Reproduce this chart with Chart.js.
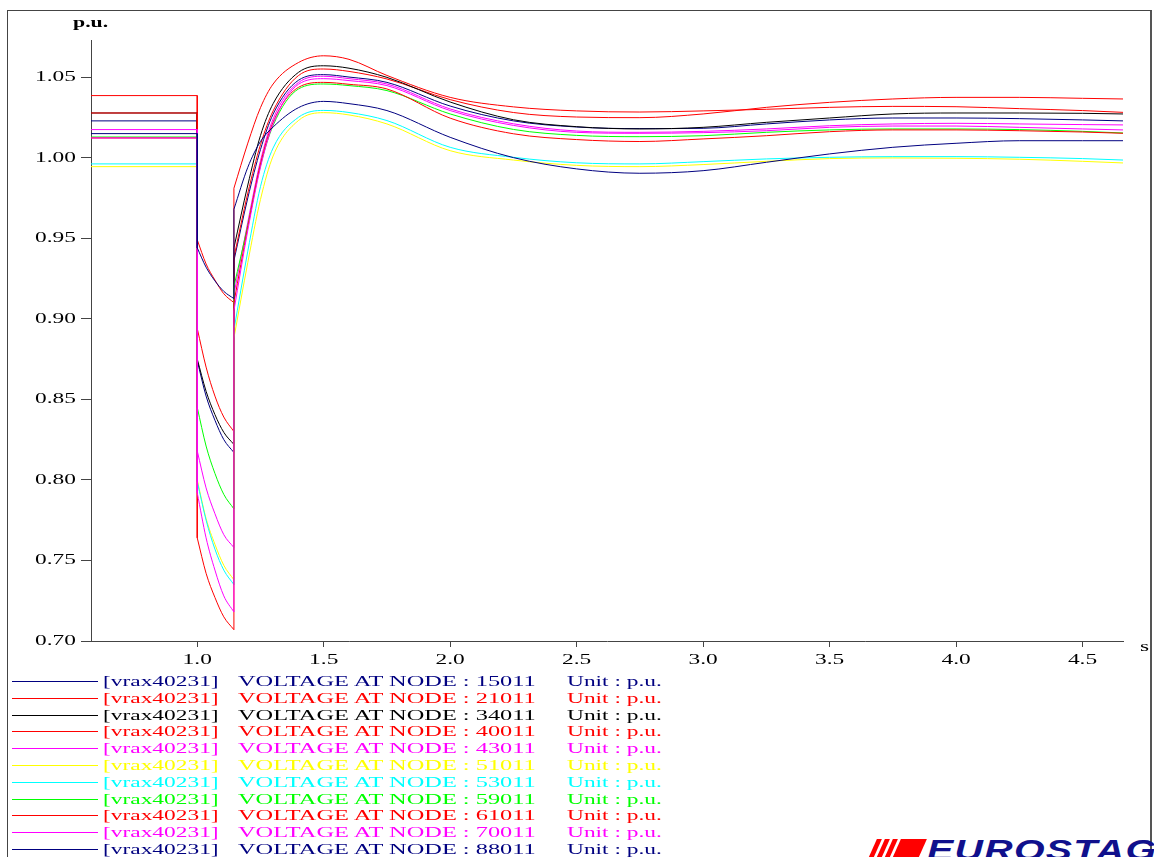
<!DOCTYPE html>
<html>
<head>
<meta charset="utf-8">
<script src="https://cdn.jsdelivr.net/npm/chart.js@4.4.1/dist/chart.umd.min.js"></script>
<style>
    html, body { margin: 0; padding: 0; background: #fff; width: 1154px; height: 857px; overflow: hidden; }
    #frame { position: absolute; left: 7px; top: 10px; width: 1142px; height: 900px;
             border-left: 1px solid #444; border-top: 1px solid #444; border-right: 2px solid #555; }
    #plot { position: absolute; left: 0; top: 0; }
    .txt { position: absolute; font-family: "Liberation Serif", serif; font-size: 15px; line-height: 17px;
           white-space: nowrap; transform-origin: left center; transform: scaleX(1.56); }
    .txt.wide { transform: scaleX(1.625); }
    .sample { position: absolute; left: 12px; width: 86px; height: 1px; }
    .stripe { position: absolute; top: 839px; height: 22px; background: #ff0000; transform: skewX(-24deg); }
    #logotext { position: absolute; left: 927px; top: 835px; font-family: "Liberation Sans", Arial, sans-serif;
                font-weight: bold; font-style: italic; font-size: 30px; line-height: 30px; color: #10108c;
                transform-origin: left center; transform: scaleX(1.31); letter-spacing: 1px; }
</style>
</head>
<body>
<div id="frame"></div>
<canvas id="plot" width="1154" height="680"></canvas>
<div class="txt" style="left:73px; top:14px; font-size:14px; font-weight:bold;">p.u.</div>
<div class="txt" style="left:1140px; top:638px;">s</div>
<div id="legend"></div>
<div class="stripe" style="left:872px; width:5px;"></div>
<div class="stripe" style="left:880px; width:5px;"></div>
<div class="stripe" style="left:888px; width:5px;"></div>
<div class="stripe" style="left:896px; width:26px;"></div>
<div id="logotext">EUROSTAG</div>

<script>
// time samples (s) - fault applied at 1.0 s, cleared at 1.145 s (both instants appear twice)
const times = [0.58, 1.0, 1.0, 1.035, 1.07, 1.105, 1.145, 1.145, 1.2, 1.25, 1.3, 1.4, 1.5, 1.6,
               1.75, 2.0, 2.25, 2.5, 2.75, 3.0, 3.25, 3.5, 3.75, 4.0, 4.25, 4.5, 4.66];

// voltages (p.u.)
const node15011 = [1.0228, 1.0228, 0.874, 0.852, 0.837, 0.825, 0.817, 0.936, 0.975, 1.005, 1.027, 1.048, 1.0515, 1.050,
                   1.0467, 1.032, 1.0228, 1.019, 1.018, 1.0182, 1.0209, 1.0234, 1.0246, 1.0246, 1.0242, 1.0234, 1.0228];
const node21011 = [1.0385, 1.0385, 0.894, 0.870, 0.852, 0.839, 0.830, 0.938, 0.978, 1.008, 1.029, 1.0509, 1.055, 1.0535,
                   1.0488, 1.036, 1.028, 1.0252, 1.0248, 1.0271, 1.0312, 1.0343, 1.0364, 1.0374, 1.0374, 1.0368, 1.0364];
const node34011 = [1.0277, 1.0277, 0.875, 0.855, 0.8405, 0.8295, 0.822, 0.944, 0.983, 1.0137, 1.0335, 1.0529, 1.057, 1.0555,
                   1.0498, 1.0345, 1.0235, 1.0192, 1.0178, 1.0188, 1.0219, 1.0246, 1.0271, 1.0277, 1.0277, 1.0275, 1.0271];
const node40011 = [1.0277, 1.0277, 0.949, 0.934, 0.924, 0.9155, 0.910, 0.981, 1.009, 1.031, 1.0457, 1.059, 1.0632, 1.061,
                   1.051, 1.0374, 1.0315, 1.029, 1.0283, 1.029, 1.030, 1.0312, 1.0318, 1.0316, 1.0304, 1.0292, 1.0281];
const node43011 = [1.0174, 1.0174, 0.818, 0.795, 0.779, 0.766, 0.758, 0.915, 0.960, 0.998, 1.024, 1.0466, 1.0505, 1.049,
                   1.0457, 1.0302, 1.021, 1.0165, 1.0157, 1.0163, 1.0178, 1.0198, 1.0209, 1.0213, 1.0209, 1.0205, 1.0203];
const node51011 = [0.9944, 0.9944, 0.800, 0.776, 0.760, 0.747, 0.738, 0.888, 0.935, 0.974, 1.001, 1.023, 1.0279, 1.0265,
                   1.0209, 1.0043, 0.9985, 0.9952, 0.9944, 0.9957, 0.9977, 0.9994, 0.9998, 0.9996, 0.999, 0.9977, 0.9967];
const node53011 = [0.9961, 0.9961, 0.799, 0.775, 0.757, 0.744, 0.735, 0.893, 0.942, 0.982, 1.006, 1.025, 1.0293, 1.028,
                   1.023, 1.0064, 1.0002, 0.9968, 0.9961, 0.9975, 0.9992, 1.0002, 1.0006, 1.0006, 1.0002, 0.9994, 0.9985];
const node59011 = [1.0128, 1.0128, 0.845, 0.821, 0.804, 0.791, 0.782, 0.920, 0.958, 0.995, 1.020, 1.0426, 1.0457, 1.0447,
                   1.0416, 1.0271, 1.0175, 1.0138, 1.013, 1.0136, 1.0157, 1.0172, 1.0178, 1.0178, 1.0174, 1.0163, 1.0153];
const node61011 = [1.0122, 1.0122, 0.764, 0.742, 0.727, 0.715, 0.707, 0.910, 0.957, 0.996, 1.022, 1.0436, 1.0467, 1.0455,
                   1.0426, 1.0245, 1.0148, 1.0112, 1.0100, 1.0116, 1.0136, 1.0161, 1.0172, 1.0172, 1.0167, 1.0159, 1.0151];
const node70011 = [1.0122, 1.0122, 0.792, 0.764, 0.744, 0.728, 0.718, 0.905, 0.955, 0.994, 1.021, 1.0455, 1.049, 1.0478,
                   1.0447, 1.0292, 1.020, 1.0157, 1.0151, 1.0155, 1.0167, 1.0188, 1.0196, 1.0196, 1.0188, 1.0178, 1.0172];
const node88011 = [1.0149, 1.0149, 0.944, 0.932, 0.9235, 0.917, 0.9125, 0.968, 0.994, 1.010, 1.019, 1.031, 1.0349, 1.0335,
                   1.0292, 1.0126, 1.000, 0.993, 0.9903, 0.9919, 0.9971, 1.0023, 1.0064, 1.0089, 1.0105, 1.0105, 1.0105];

const nodeNames = ['15011', '21011', '34011', '40011', '43011', '51011', '53011', '59011', '61011', '70011', '88011'];
const nodeSeries = [node15011, node21011, node34011, node40011, node43011, node51011,
                    node53011, node59011, node61011, node70011, node88011];
const nodeColors = ['#000080', '#ff0000', '#000000', '#ff0000', '#ff00ff', '#ffff00',
                    '#00ffff', '#00ff00', '#ff0000', '#ff00ff', '#000080'];

const xTicks = [1.0, 1.5, 2.0, 2.5, 3.0, 3.5, 4.0, 4.5];
const yTicks = [0.70, 0.75, 0.80, 0.85, 0.90, 0.95, 1.00, 1.05];

// sample indexes where the fault starts and where it is cleared
const FAULT_ON = 2;
const FAULT_OFF = 7;
const STRETCH = 1.56;

// tick labels are horizontally stretched like the original export
const stretchedTicks = {
    id: 'stretchedTicks',
    afterDraw(chart) {
        const ctx = chart.ctx;
        const xs = chart.scales.x;
        const ys = chart.scales.y;
        ctx.save();
        ctx.font = '15px "Liberation Serif"';
        ctx.fillStyle = '#000';
        ctx.textBaseline = 'middle';
        ys.ticks.forEach(t => {
            ctx.save();
            ctx.translate(ys.right - 15, ys.getPixelForValue(t.value));
            ctx.scale(STRETCH, 1);
            ctx.textAlign = 'right';
            ctx.fillText(t.value.toFixed(2), 0, 0);
            ctx.restore();
        });
        xs.ticks.forEach(t => {
            ctx.save();
            ctx.translate(xs.getPixelForValue(t.value), xs.top + 19);
            ctx.scale(STRETCH, 1);
            ctx.textAlign = 'center';
            ctx.fillText(t.value.toFixed(1), 0, 0);
            ctx.restore();
        });
        ctx.restore();
    }
};

function buildLegend() {
    const legend = document.getElementById('legend');
    nodeNames.forEach((name, i) => {
        const cy = Math.round(681 + i * 16.8);
        const color = nodeColors[i];
        legend.innerHTML += `
            <div class="sample" style="top:${cy}px; background:${color};"></div>
            <div class="txt" style="left:103px; top:${cy - 8}px; color:${color};">[vrax40231]</div>
            <div class="txt wide" style="left:238px; top:${cy - 8}px; color:${color};">VOLTAGE AT NODE : ${name}</div>
            <div class="txt" style="left:567px; top:${cy - 8}px; color:${color};">Unit : p.u.</div>
        `;
    });
}

function renderChart() {
    const ctx = document.getElementById('plot').getContext('2d');
    const datasets = [];

    nodeSeries.forEach((values, i) => {
        const pt = k => ({ x: times[k], y: values[k] });
        // later nodes are painted over the earlier ones
        const order = nodeSeries.length - i;
        // straight parts: steady state before the fault and the two switching jumps
        datasets.push({
            label: 'jumps ' + nodeNames[i],
            data: [pt(0), pt(1), pt(FAULT_ON), { x: times[FAULT_ON + 1], y: null },
                   pt(FAULT_OFF - 1), pt(FAULT_OFF)],
            borderColor: nodeColors[i],
            borderWidth: 1,
            pointRadius: 0,
            tension: 0,
            order: order
        });
        // smooth parts: decay during the fault, then the recovery
        const smooth = [];
        for (let k = FAULT_ON; k < FAULT_OFF; k++) smooth.push(pt(k));
        smooth.push({ x: times[FAULT_OFF - 1], y: null });
        for (let k = FAULT_OFF; k < times.length; k++) smooth.push(pt(k));
        datasets.push({
            label: 'VOLTAGE AT NODE : ' + nodeNames[i],
            data: smooth,
            borderColor: nodeColors[i],
            borderWidth: 1,
            pointRadius: 0,
            cubicInterpolationMode: 'monotone',
            order: order
        });
    });

    new Chart(ctx, {
        type: 'line',
        data: { datasets: datasets },
        plugins: [stretchedTicks],
        options: {
            responsive: false,
            animation: false,
            spanGaps: false,
            layout: { padding: { left: 0, top: 40, right: 31, bottom: 0 } },
            plugins: { legend: { display: false }, tooltip: { enabled: false } },
            scales: {
                x: {
                    type: 'linear',
                    min: 0.58,
                    max: 4.66,
                    afterBuildTicks: s => { s.ticks = xTicks.map(v => ({ value: v })); },
                    afterFit: s => { s.height = 39; },
                    ticks: { display: false },
                    grid: { drawOnChartArea: false, drawTicks: true, tickLength: 6, color: '#444' },
                    border: { color: '#444' }
                },
                y: {
                    type: 'linear',
                    min: 0.70,
                    max: 1.073,
                    afterBuildTicks: s => { s.ticks = yTicks.map(v => ({ value: v })); },
                    afterFit: s => { s.width = 91; },
                    ticks: { display: false },
                    grid: { drawOnChartArea: false, drawTicks: true, tickLength: 10, color: '#444' },
                    border: { color: '#444' }
                }
            }
        }
    });
}

buildLegend();
renderChart();
</script>
</body>
</html>
